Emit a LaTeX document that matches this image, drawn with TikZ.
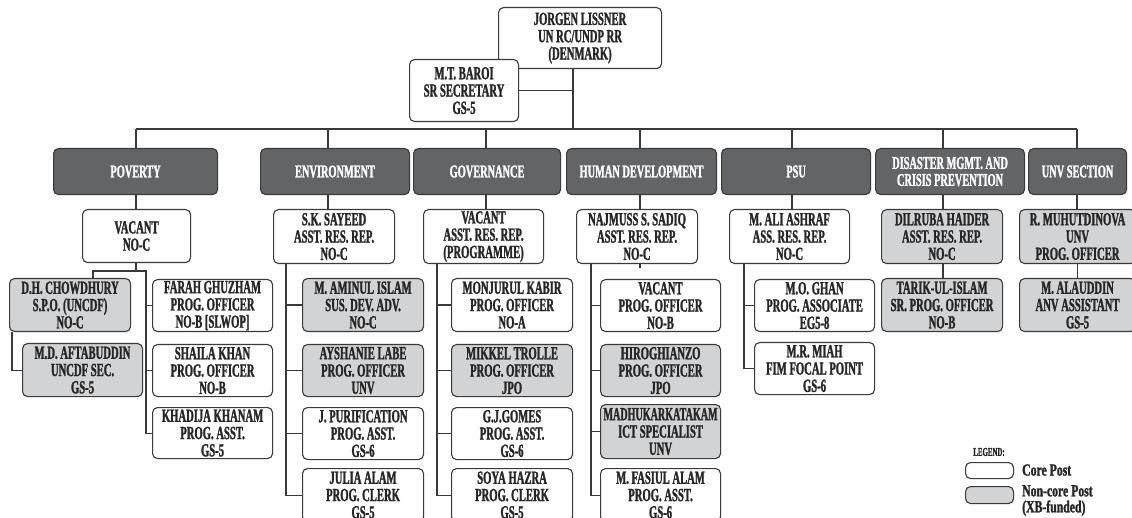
\documentclass[tikz,border=0pt]{standalone}
\usepackage{fontspec}
\setmainfont{Liberation Serif}[UprightFont={Liberation Serif Bold}, BoldFont={Liberation Serif Bold}, FakeStretch=0.575, FakeBold=1.4]
\definecolor{hdr}{HTML}{636466}
\definecolor{ncore}{HTML}{D2D3D5}
\definecolor{edge}{HTML}{3A3A3A}
\definecolor{ink}{HTML}{262626}
\tikzset{
 base/.style={draw=edge, line width=1.1pt, rounded corners=5pt, inner sep=0pt, align=center, text=ink, font=\fontsize{18.5}{17.3}\selectfont},
 wbox/.style={base, fill=white},
 gbox/.style={base, fill=ncore},
 hbox/.style={base, fill=hdr, text=white, font=\fontsize{18}{17}\selectfont},
 conn/.style={draw=edge, line width=1.1pt},
 legtxt/.style={text=ink, inner sep=0pt, align=left, font=\fontsize{17}{16}\selectfont},
}
\newcommand{\bx}[7][wbox]{\node[#1, minimum width={(#4-#2)*1pt}, minimum height={(#5-#3)*1pt}, anchor=north west] (#6) at (#2,#3) {#7};}
\begin{document}
\begin{tikzpicture}[x=1pt,y=-1pt]
\useasboundingbox (0,0) rectangle (1132,518);
\clip (0,0) rectangle (1132,518);
% top
\bx{498}{7}{661}{68}{jl}{JORGEN LISSNER\\UN RC/UNDP RR\\(DENMARK)}
\bx{409}{59}{518}{121}{mtb}{M.T. BAROI\\SR SECRETARY\\GS-5}
% headers
\bx[hbox]{53}{148}{217}{194}{pov}{POVERTY}
\bx[hbox]{260}{148}{409}{194}{env}{ENVIRONMENT}
\bx[hbox]{413}{148}{560}{194}{gov}{GOVERNANCE}
\bx[hbox]{566}{148}{716}{194}{hd}{HUMAN DEVELOPMENT}
\bx[hbox]{721}{148}{870}{194}{psu}{PSU}
\bx[hbox]{875}{148}{1024}{194}{dm}{DISASTER MGMT. AND\\CRISIS PREVENTION}
\bx[hbox]{1028}{148}{1126}{194}{unv}{UNV SECTION}
% level 2
\bx{82}{209}{190}{262}{povv}{VACANT\\NO-C}
\bx{273}{209}{394}{263}{sks}{S.K. SAYEED\\ASST. RES. REP.\\NO-C}
\bx{423}{209}{543}{263}{gv}{VACANT\\ASST. RES. REP.\\(PROGRAMME)}
\bx{576}{209}{697}{263}{nsa}{NAJMUSS S. SADIQ\\ASST. RES. REP.\\NO-C}
\bx{729}{209}{849}{263}{maa}{M. ALI ASHRAF\\ASS. RES. REP.\\NO-C}
\bx[gbox]{881}{209}{1002}{263}{dhd}{DILRUBA HAIDER\\ASST. RES. REP.\\NO-C}
\bx[gbox]{1019}{209}{1135}{263}{rmu}{R. MUHUTDINOVA\\UNV\\PROG. OFFICER}
% poverty
\bx[gbox]{9}{278}{130}{331}{dhc}{D.H. CHOWDHURY\\S.P.O. (UNCDF)\\NO-C}
\bx[gbox]{22}{343}{142}{396}{mda}{M.D. AFTABUDDIN\\UNCDF SEC.\\GS-5}
\bx{152}{279}{272}{331}{far}{FARAH GHUZHAM\\PROG. OFFICER\\NO-B [SLWOP]}
\bx{152}{344}{272}{396}{sha}{SHAILA KHAN\\PROG. OFFICER\\NO-B}
\bx{152}{407}{272}{458}{kha}{KHADIJA KHANAM\\PROG. ASST.\\GS-5}
% environment
\bx[gbox]{302}{278}{423}{331}{ami}{M. AMINUL ISLAM\\SUS. DEV. ADV.\\NO-C}
\bx[gbox]{302}{344}{423}{396}{ays}{AYSHANIE LABE\\PROG. OFFICER\\UNV}
\bx{302}{407}{423}{459}{pur}{J. PURIFICATION\\PROG. ASST.\\GS-6}
\bx{302}{468}{423}{521}{jul}{JULIA ALAM\\PROG. CLERK\\GS-5}
% governance
\bx{451}{278}{572}{331}{mon}{MONJURUL KABIR\\PROG. OFFICER\\NO-A}
\bx[gbox]{451}{344}{572}{396}{mik}{MIKKEL TROLLE\\PROG. OFFICER\\JPO}
\bx{451}{407}{572}{459}{gjg}{G.J.GOMES\\PROG. ASST.\\GS-6}
\bx{451}{468}{572}{521}{soy}{SOYA HAZRA\\PROG. CLERK\\GS-5}
% human development
\bx{600}{279}{720}{331}{hvac}{VACANT\\PROG. OFFICER\\NO-B}
\bx[gbox]{600}{344}{720}{396}{hir}{HIROGHIANZO\\PROG. OFFICER\\JPO}
\bx[gbox]{600}{404}{720}{458}{mad}{\scalebox{0.95}[1]{MADHUKARKATAKAM}\\ICT SPECIALIST\\UNV}
\bx{600}{468}{720}{521}{fas}{M. FASIUL ALAM\\PROG. ASST.\\GS-6}
% psu
\bx{754}{279}{874}{331}{mog}{M.O. GHAN\\PROG. ASSOCIATE\\EG5-8}
\bx{754}{342}{874}{394}{mrm}{M.R. MIAH\\FIM FOCAL POINT\\GS-6}
% disaster
\bx[gbox]{881}{278}{1002}{331}{tar}{TARIK-UL-ISLAM\\SR. PROG. OFFICER\\NO-B}
% unv
\bx[gbox]{1019}{278}{1135}{331}{mal}{M. ALAUDDIN\\ANV ASSISTANT\\GS-5}
% connectors top
\coordinate (bj) at (573,129);
\draw[conn] (bj |- jl.south) -- (bj);
\draw[conn] (mtb.east) -- (mtb.east -| bj);
\coordinate (busL) at (136,129);
\coordinate (busR) at (1077,129);
\draw[conn] (busL) -- (busR);
\foreach \x/\h/\c in {136/pov/povv, 328/env/sks, 486/gov/gv, 640/hd/nsa, 792/psu/maa, 943/dm/dhd, 1077/unv/rmu}{
  \coordinate (t) at (\x,129);
  \draw[conn] (t) -- (t |- \h.north) (t |- \h.south) -- (t |- \c.north);
}
% poverty connectors
\coordinate (pj) at (136,271);
\coordinate (pl) at (93,271);
\coordinate (pr) at (146,271);
\draw[conn] (pj |- povv.south) -- (pj);
\draw[conn] (pl |- dhc.north) -- (pl) -- (pr) |- (kha.west);
\draw[conn] (pr |- far.west) -- (far.west) (pr |- sha.west) -- (sha.west);
\coordinate (dl) at (12,331);
\draw[conn] (dl |- dhc.south) |- (mda.west);
% environment
\coordinate (es) at (286,263);
\draw[conn] (es) |- (jul.west);
\foreach \n in {ami,ays,pur}{\draw[conn] (es |- \n.west) -- (\n.west);}
% governance
\coordinate (gs) at (437,263);
\draw[conn] (gs) |- (soy.west);
\foreach \n in {mon,mik,gjg}{\draw[conn] (gs |- \n.west) -- (\n.west);}
% human development
\coordinate (hs) at (591,263);
\draw[conn] (hs) |- (fas.west);
\foreach \n in {hvac,hir,mad}{\draw[conn] (hs |- \n.west) -- (\n.west);}
\coordinate (hstub) at (640,263);
\draw[conn] (hstub) -- ++(0,5);
% psu
\coordinate (ps) at (744,263);
\draw[conn] (ps) |- (mrm.west);
\draw[conn] (ps |- mog.west) -- (mog.west);
% disaster, unv
\coordinate (dmx) at (943,263);
\draw[conn] (dmx |- dhd.south) -- (dmx |- tar.north);
\draw[conn] (rmu.south) -- (mal.north);
% legend
\node[text=ink, inner sep=0pt, font=\fontsize{12}{12}\selectfont] (leg) at (989,452) {LEGEND:};
\bx{965}{462}{1013}{478}{lcore}{}
\bx[gbox]{965}{486}{1013}{503}{lnon}{}
\node[legtxt, anchor=west] (lct) at (1022,470) {\scalebox{1.2}[1]{Core Post}};
\node[legtxt, anchor=north west] (lnt) at (1022,485) {\scalebox{1.2}[1]{Non-core Post}\\\scalebox{1.2}[1]{(XB-funded)}};
\end{tikzpicture}
\end{document}
